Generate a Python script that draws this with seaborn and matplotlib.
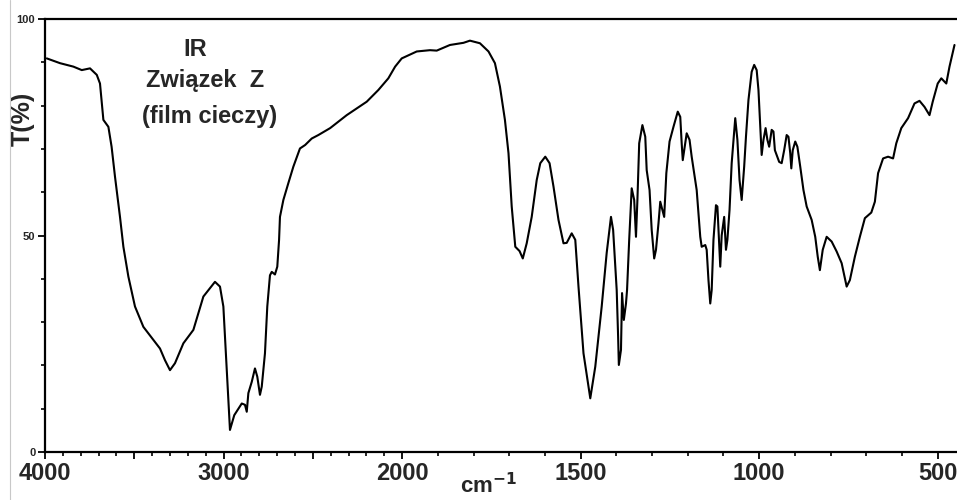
import numpy as np
import pandas as pd
import matplotlib
matplotlib.use("Agg")
import matplotlib.pyplot as plt
from matplotlib.ticker import FixedLocator, FixedFormatter
from matplotlib.lines import Line2D
import seaborn as sns

# IR spectrum of compound Z (liquid film): wavenumber [cm^-1] vs transmittance [%]
wavenumber = [
    3990, 3916, 3841, 3794, 3748, 3710, 3692, 3673, 3645, 3627, 3608, 3580,
    3561, 3533, 3496, 3449, 3393, 3356, 3328, 3300, 3272, 3225, 3169, 3113,
    3048, 3020, 3001, 2982, 2964, 2940, 2898, 2880, 2870, 2861, 2842, 2824,
    2811, 2796, 2786, 2768, 2755, 2740, 2730, 2712, 2699, 2689, 2684, 2665,
    2637, 2609, 2572, 2543, 2506, 2469, 2403, 2310, 2198, 2133, 2077, 2039,
    2002, 1959, 1922, 1903, 1866, 1828, 1810, 1782, 1758, 1740, 1726, 1712,
    1702, 1693, 1683, 1671, 1662, 1651, 1637, 1623, 1613, 1599, 1587, 1576,
    1562, 1548, 1539, 1525, 1515, 1506, 1492, 1473, 1459, 1441, 1427, 1415,
    1409, 1404, 1399, 1395, 1393, 1387, 1384, 1379, 1373, 1370, 1364, 1357,
    1350, 1345, 1341, 1336, 1327, 1319, 1315, 1307, 1301, 1294, 1289, 1282,
    1277, 1271, 1266, 1260, 1251, 1240, 1228, 1221, 1217, 1214, 1207, 1203,
    1195, 1189, 1175, 1165, 1161, 1151, 1147, 1142, 1137, 1133, 1128, 1121,
    1117, 1113, 1109, 1105, 1098, 1093, 1089, 1083, 1077, 1067, 1061, 1055,
    1049, 1042, 1037, 1030, 1021, 1014, 1007, 1002, 998, 993, 988, 982,
    977, 972, 965, 960, 956, 944, 937, 930, 923, 918, 913, 910,
    906, 899, 893, 885, 876, 867, 853, 843, 836, 830, 822, 811,
    797, 783, 769, 755, 746, 732, 718, 704, 686, 676, 667, 653,
    639, 625, 616, 602, 583, 565, 551, 537, 523, 514, 500, 490,
    476, 467, 453,
]
transmittance = [
    90.9, 89.8, 89.0, 88.2, 88.6, 87.1, 85.1, 76.7, 75.1, 70.5, 63.6, 54.3,
    47.4, 40.5, 33.6, 28.9, 25.9, 23.9, 21.2, 18.9, 20.5, 25.1, 28.2, 35.9,
    39.3, 38.2, 33.6, 18.9, 5.1, 8.5, 11.2, 10.9, 9.3, 13.6, 16.2, 19.3,
    17.4, 13.2, 15.1, 22.8, 33.6, 40.8, 41.6, 41.0, 42.8, 49.0, 54.3, 58.2,
    62.1, 65.9, 70.1, 70.9, 72.4, 73.2, 74.8, 77.8, 80.9, 83.6, 86.3, 89.0,
    90.9, 92.5, 92.8, 92.7, 94.0, 94.5, 95.0, 94.4, 92.5, 89.8, 84.4, 76.7,
    69.0, 56.7, 47.4, 46.4, 44.7, 48.2, 54.3, 62.8, 66.7, 68.2, 66.7, 61.3,
    53.6, 48.2, 48.3, 50.5, 49.0, 38.2, 22.8, 12.4, 19.7, 33.6, 46.0, 54.3,
    51.3, 44.3, 37.4, 26.6, 20.1, 23.6, 36.7, 30.5, 34.3, 37.4, 49.0, 60.9,
    58.2, 49.7, 58.2, 71.3, 75.5, 72.8, 65.1, 60.5, 51.3, 44.7, 46.7, 52.8,
    57.8, 55.9, 54.3, 64.4, 71.7, 75.1, 78.6, 77.4, 71.3, 67.4, 71.3, 73.6,
    72.1, 68.2, 60.5, 49.7, 47.4, 47.8, 46.7, 39.7, 34.3, 37.4, 49.0, 57.0,
    56.7, 49.7, 42.8, 50.0, 54.3, 46.7, 49.0, 55.9, 66.7, 77.1, 72.1, 62.8,
    58.2, 65.9, 72.8, 81.3, 87.8, 89.4, 88.2, 83.6, 76.7, 68.6, 72.1, 74.8,
    72.1, 70.5, 74.4, 74.0, 69.7, 67.0, 66.7, 69.7, 73.2, 72.8, 69.0, 65.5,
    69.7, 71.7, 70.5, 65.9, 60.5, 56.7, 53.6, 49.7, 45.1, 42.0, 46.7, 49.7,
    48.6, 46.3, 43.6, 38.2, 39.7, 45.1, 49.7, 54.0, 55.3, 57.8, 64.4, 67.8,
    68.2, 67.8, 71.3, 74.8, 77.1, 80.5, 81.1, 79.7, 77.8, 80.9, 85.1, 86.3,
    85.1, 89.0, 94.0,
]

x_major = [4000, 3500, 3000, 2500, 2000, 1500, 1000, 500]
x_major_labels = ["4000", "", "3000", "", "2000", "1500", "1000", "500"]
y_major = [0, 50, 100]
y_major_labels = ["0", "50", "100"]
title_lines = ["IR", "Związek  Z", "(film cieczy)"]

df = pd.DataFrame({"wavenumber": wavenumber, "T": transmittance})

sns.set_style("white")
plt.rcParams["font.family"] = ["Liberation Sans", "DejaVu Sans"]
plt.rcParams["font.weight"] = "bold"

fig = plt.figure(figsize=(9.57, 5.0), dpi=100)
ax = fig.add_axes([45 / 957, 1 - 452 / 500, 1 - 45 / 957, (452 - 19) / 500])

# above 2000 cm^-1 the wavenumber axis is compressed by a factor of two
def fwd(w):
    w = np.asarray(w, dtype=float)
    return np.where(w > 2000, 2000 + (w - 2000) / 2, w)

def inv(u):
    u = np.asarray(u, dtype=float)
    return np.where(u > 2000, 2000 + (u - 2000) * 2, u)

ax.set_xscale("function", functions=(fwd, inv))

sns.lineplot(data=df, x="wavenumber", y="T", sort=False, estimator=None,
             color="black", linewidth=1.5, ax=ax)

ax.set_xlim(4000, 446)
ax.set_ylim(0, 100)

ax.xaxis.set_major_locator(FixedLocator(x_major))
ax.xaxis.set_major_formatter(FixedFormatter(x_major_labels))
ax.xaxis.set_minor_locator(FixedLocator([v for v in range(500, 4001, 100) if v not in x_major]))
ax.yaxis.set_major_locator(FixedLocator(y_major))
ax.yaxis.set_major_formatter(FixedFormatter(y_major_labels))
ax.yaxis.set_minor_locator(FixedLocator([v for v in range(10, 100, 10) if v not in y_major]))

ax.tick_params(axis="x", which="major", direction="out", length=5, width=1.3,
               labelsize=17, pad=2, color="black")
ax.tick_params(axis="x", which="minor", direction="out", length=3, width=1.2, color="black")
ax.tick_params(axis="y", which="major", direction="out", length=5, width=1.3,
               labelsize=8, pad=2, color="black")
ax.tick_params(axis="y", which="minor", direction="out", length=3, width=1.2, color="black")
ax.tick_params(bottom=True, left=True, which="both")
for lab in ax.get_xticklabels() + ax.get_yticklabels():
    lab.set_fontweight("bold")

for side in ("left", "bottom", "top"):
    ax.spines[side].set_visible(True)
    ax.spines[side].set_linewidth(1.6)
    ax.spines[side].set_color("black")
ax.spines["right"].set_visible(False)

ax.set_xlabel("cm$^{\\mathbf{-1}}$", fontsize=16, fontweight="bold")
ax.xaxis.set_label_coords(0.486, -0.048)
ax.xaxis.label.set_verticalalignment("top")
ax.set_ylabel("T(%)", fontsize=18, fontweight="bold")
ax.yaxis.set_label_coords(-0.024, 0.77)
ax.yaxis.label.set_verticalalignment("center")

for txt, xp, yp in zip(title_lines, [195, 205, 210], [50, 81, 117]):
    fig.text(xp / 957, 1 - yp / 500, txt, ha="center", va="center",
             fontsize=17, fontweight="bold")

fig.add_artist(Line2D([10 / 957, 10 / 957], [0, 1], color="#c8c8c8", linewidth=0.8))

fig.savefig("out.png", dpi=100)
